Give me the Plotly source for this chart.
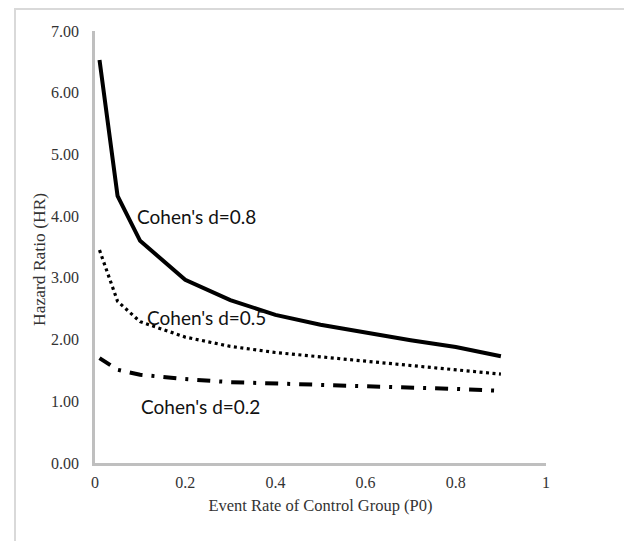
import plotly.graph_objects as go

p0 = [0.01, 0.05, 0.1, 0.2, 0.3, 0.4, 0.5, 0.6, 0.7, 0.8, 0.9]
hr_d08 = [6.53, 4.33, 3.60, 2.97, 2.64, 2.40, 2.24, 2.11, 1.99, 1.88, 1.73]
hr_d05 = [3.45, 2.62, 2.29, 2.04, 1.89, 1.79, 1.72, 1.65, 1.59, 1.52, 1.44]
hr_d02 = [1.70, 1.51, 1.43, 1.36, 1.31, 1.29, 1.26, 1.24, 1.22, 1.20, 1.17]

labels = ["Cohen's d=0.8", "Cohen's d=0.5", "Cohen's d=0.2"]
label_x = [0.226, 0.248, 0.235]
label_y = [4.0, 2.35, 0.92]

serif = "Liberation Serif, Times New Roman, serif"

fig = go.Figure()
fig.add_trace(go.Scatter(x=p0, y=hr_d08, mode="lines", name=labels[0],
                         line=dict(color="black", width=4)))
fig.add_trace(go.Scatter(x=p0, y=hr_d05, mode="lines", name=labels[1],
                         line=dict(color="black", width=3.2, dash="3px,3.5px")))
fig.add_trace(go.Scatter(x=p0, y=hr_d02, mode="lines", name=labels[2],
                         line=dict(color="black", width=4, dash="13px,9px,3px,9px")))

for t, x, y in zip(labels, label_x, label_y):
    fig.add_annotation(x=x, y=y, text=t, showarrow=False,
                       font=dict(family="Lato, Carlito, sans-serif", size=19, color="#111111"))

# y-axis title
fig.add_annotation(xref="paper", yref="paper", x=(31 - 87) / 451, y=0.47,
                   text="Hazard Ratio (HR)", textangle=-90, showarrow=False,
                   xanchor="center", yanchor="middle",
                   font=dict(family=serif, size=17.5, color="#333333"))

# outer chart border (page body adds an 8px offset)
fig.add_shape(type="rect", xref="paper", yref="paper",
              x0=(7 - 87) / 451, x1=(621 - 87) / 451,
              y0=-0.3, y1=(455 - 1) / 432,
              line=dict(color="#d9d9d9", width=2), fillcolor="rgba(0,0,0,0)", layer="below")

fig.update_layout(
    width=624, height=533,
    margin=dict(l=87, r=86, t=23, b=78),
    paper_bgcolor="white", plot_bgcolor="white",
    showlegend=False,
    font=dict(family=serif, size=16, color="#333333"),
    xaxis=dict(range=[0, 1], tickvals=[0, 0.2, 0.4, 0.6, 0.8, 1],
               ticktext=["0", "0.2", "0.4", "0.6", "0.8", "1"],
               showline=True, linecolor="#bfbfbf", linewidth=2.5, automargin=False,
               showgrid=False, zeroline=False, ticks="", ticklabelstandoff=3,
               title=dict(text="Event Rate of Control Group (P0)", standoff=10,
                          font=dict(family=serif, size=16.5, color="#333333"))),
    yaxis=dict(range=[0, 7], tickvals=[0, 1, 2, 3, 4, 5, 6, 7], tickformat=".2f",
               showline=True, linecolor="#bfbfbf", linewidth=2.5, automargin=False,
               showgrid=False, zeroline=False, ticks="", ticklabelstandoff=10),
)

fig.write_html("out.html")
